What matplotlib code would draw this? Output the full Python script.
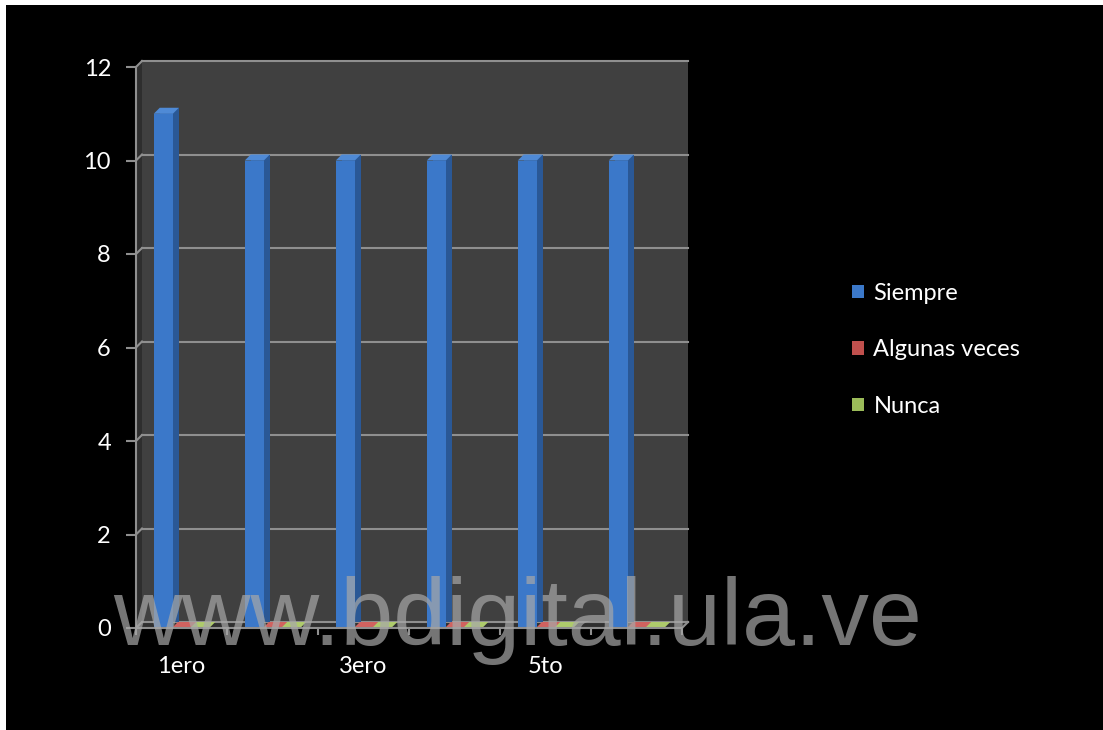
import numpy as np
import matplotlib.pyplot as plt
from matplotlib.patches import Rectangle, Polygon, Patch

plt.rcParams['font.family'] = ['Lato', 'DejaVu Sans']

# data
categories = ['1ero', '2do', '3ero', '4to', '5to', '6to']
siempre = [11, 10, 10, 10, 10, 10]
algunas = [0, 0, 0, 0, 0, 0]
nunca = [0, 0, 0, 0, 0, 0]
series_names = ['Siempre', 'Algunas veces', 'Nunca']
yticks = [0, 2, 4, 6, 8, 10, 12]

front_colors = ['#3b78c9', '#c0504d', '#9bbb59']
side_colors = ['#2a5896', '#8a3734', '#6f8a3c']
top_colors = ['#4f8ad6', '#d0625f', '#aecb6c']

W, H = 1103, 730
fig = plt.figure(figsize=(W / 100, H / 100), dpi=100, facecolor='white')

# black background, with a thin white strip left and top
fig.add_artist(Rectangle((6 / W, 0), 1, 1 - 5 / H, transform=fig.transFigure,
                         facecolor='black', edgecolor='none', zorder=-10))

ax = fig.add_axes([136 / W, (H - 628) / H, 546 / W, 561 / H])
ax.set_xlim(0, len(categories))
ax.set_ylim(0, 12)
ax.patch.set_visible(False)
for s in ax.spines.values():
    s.set_visible(False)

# depth offset of the 3d look (6 px) in data units
dx = 6 * len(categories) / 546
dy = 6 * 12 / 561
ymax = 12
xmax = len(categories)

# walls
ax.add_patch(Rectangle((dx, dy), xmax, ymax, facecolor='#404040', zorder=0, clip_on=False))
ax.add_patch(Polygon([(0, 0), (dx, dy), (dx, ymax + dy), (0, ymax)],
                     facecolor='#2e2e2e', zorder=0.5, clip_on=False))
ax.add_patch(Polygon([(0, 0), (xmax, 0), (xmax + dx, dy), (dx, dy)],
                     facecolor='#303030', zorder=0.5, clip_on=False))

grid_c = '#8f8f8f'
for y in yticks:
    ax.plot([dx, xmax + dx], [y + dy, y + dy], color=grid_c, lw=1.5, zorder=1, clip_on=False)
    ax.plot([0, dx], [y, y + dy], color=grid_c, lw=1.5, zorder=1, clip_on=False)
ax.plot([0, 0], [0, ymax], color=grid_c, lw=1.5, zorder=5, clip_on=False)
ax.plot([0, xmax], [0, 0], color=grid_c, lw=1.5, zorder=5, clip_on=False)
ax.plot([xmax, xmax + dx], [0, dy], color=grid_c, lw=1.5, zorder=5, clip_on=False)

# bars
w = 0.21
x = np.arange(len(categories)) + 0.5
all_series = [siempre, algunas, nunca]
for i, vals in enumerate(all_series):
    xs = x + (i - 1) * 0.2
    ax.bar(xs + dx, vals, width=w, bottom=dy, color=side_colors[i], zorder=2, clip_on=False)
    ax.bar(xs, vals, width=w, color=front_colors[i], zorder=3, clip_on=False)
    for xx, v in zip(xs, vals):
        ax.add_patch(Polygon([(xx - w / 2, v), (xx - w / 2 + dx, v + dy),
                              (xx + w / 2 + dx, v + dy), (xx + w / 2, v)],
                             facecolor=top_colors[i], zorder=3, clip_on=False))

# axes ticks
ax.set_yticks(yticks)
ax.set_yticklabels([str(t) for t in yticks])
ax.tick_params(axis='y', length=7, width=1.5, color=grid_c, labelcolor='white',
               labelsize=17, pad=11)
ax.set_xticks(np.arange(len(categories) + 1), minor=True)
ax.set_xticks(x)
ax.set_xticklabels([c if i % 2 == 0 else '' for i, c in enumerate(categories)])
ax.tick_params(axis='x', which='major', length=0, labelcolor='white', labelsize=17, pad=20)
ax.tick_params(axis='x', which='minor', length=5, width=1.5, color=grid_c)

# legend
handles = [Patch(facecolor=c) for c in front_colors]
fig.legend(handles, series_names, loc='center left',
           bbox_to_anchor=(831 / W, (H - 350) / H), frameon=False, fontsize=17,
           labelcolor='white', handlelength=0.5, handleheight=0.5,
           handletextpad=0.4, labelspacing=1.5)

# watermark
fig.text(518 / W, (H - 645) / H, 'www.bdigital.ula.ve', ha='center', va='baseline',
         fontsize=68.5, family=['Liberation Sans'], color='#a8a8a8', alpha=0.7, zorder=10)

fig.savefig('out.png', dpi=100, facecolor=fig.get_facecolor())
